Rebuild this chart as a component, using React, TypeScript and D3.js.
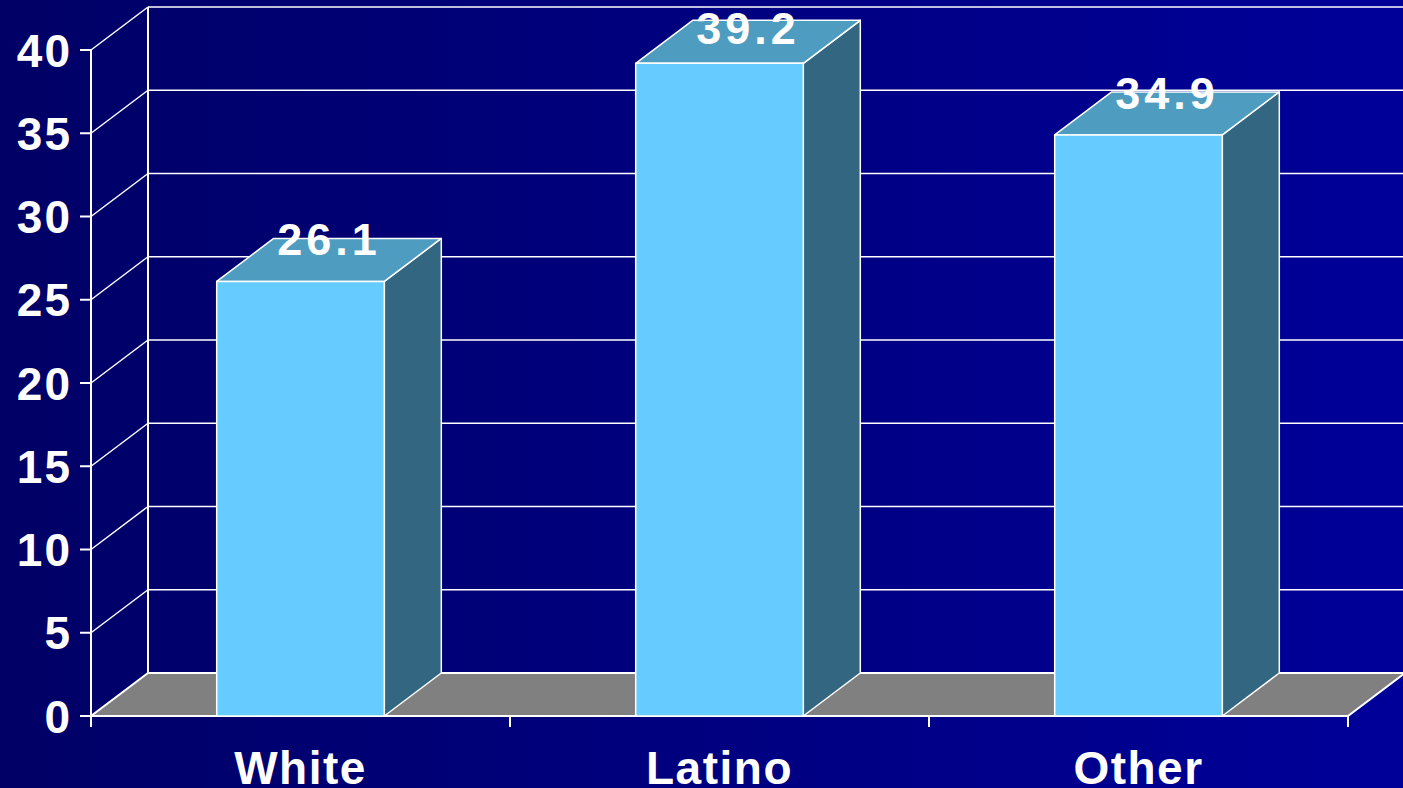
import * as d3 from 'd3'
import React from 'react'

const categories = ['White', 'Latino', 'Other']
const values = [26.1, 39.2, 34.9]
const yTicks = [0, 5, 10, 15, 20, 25, 30, 35, 40]

const
  W = 1403,
  H = 788,
  depthX = 57,
  depthY = 43,
  font = '"Liberation Sans", Arial, sans-serif'

const poly = (pts: [number, number][]) => (d3.line()(pts) as string) + 'Z'

export default function App() {
  const
    x = d3.scaleBand<string>().domain(categories).range([91, 1348]).paddingInner(0).paddingOuter(0),
    y = d3.scaleLinear().domain([0, 40]).range([716, 50]),
    barW = x.bandwidth() * 0.4,
    x0 = x.range()[0],
    x1 = x.range()[1],
    y0 = y(0)

  return (
    <div style={{ position: 'fixed', left: 0, top: 0 }}>
      <svg width={W} height={H} style={{ display: 'block' }}>
        <defs>
          <linearGradient id='bg' x1='0' x2='1' y1='0' y2='0'>
            <stop offset='0' stopColor='#000066' />
            <stop offset='1' stopColor='#000099' />
          </linearGradient>
        </defs>
        <rect width={W} height={H} fill='url(#bg)' />

        {/* floor */}
        <path d={poly([[x0, y0], [x1, y0], [x1 + depthX, y0 - depthY], [x0 + depthX, y0 - depthY]])}
          fill='#808080' stroke='#fff' strokeWidth={2} />

        {/* back wall grid */}
        <line x1={x0 + depthX} x2={x0 + depthX} y1={y(40) - depthY} y2={y0 - depthY} stroke='#fff' strokeWidth={2} />
        {yTicks.filter(t => t > 0).map(t => (
          <g key={t}>
            <line x1={x0 + depthX} x2={W + 10} y1={y(t) - depthY} y2={y(t) - depthY} stroke='#fff' strokeWidth={1.5} />
            <line x1={x0} x2={x0 + depthX} y1={y(t)} y2={y(t) - depthY} stroke='#fff' strokeWidth={1.5} />
          </g>
        ))}

        {/* y axis */}
        <line x1={x0} x2={x0} y1={y(40)} y2={y0 + 11} stroke='#fff' strokeWidth={2} />
        {yTicks.map(t => (
          <g key={t}>
            <line x1={x0 - 11} x2={x0} y1={y(t)} y2={y(t)} stroke='#fff' strokeWidth={2} />
            <text x={72} y={y(t)} dy='0.36em' textAnchor='end' fill='#fff' fontFamily={font}
              fontWeight='bold' fontSize={46} letterSpacing={2}>{t}</text>
          </g>
        ))}

        {/* x axis */}
        <line x1={x0} x2={x1} y1={y0} y2={y0} stroke='#fff' strokeWidth={2} />
        {categories.concat(['']).map((c, i) => {
          const tx = x0 + i * x.step()
          return <line key={i} x1={tx} x2={tx} y1={y0} y2={y0 + 11} stroke='#fff' strokeWidth={2} />
        })}
        {categories.map(c => (
          <text key={c} x={x(c)! + x.bandwidth() / 2} y={784} textAnchor='middle' fill='#fff'
            fontFamily={font} fontWeight='bold' fontSize={46} letterSpacing={1.5}>{c}</text>
        ))}

        {/* bars */}
        {categories.map((c, i) => {
          const
            cx = x(c)! + x.bandwidth() / 2,
            bl = cx - barW / 2,
            br = cx + barW / 2,
            top = y(values[i])
          return (
            <g key={c} stroke='#fff' strokeWidth={1.5} strokeLinejoin='round'>
              <path d={poly([[br, y0], [br + depthX, y0 - depthY], [br + depthX, top - depthY], [br, top]])} fill='#336680' />
              <path d={poly([[bl, top], [br, top], [br + depthX, top - depthY], [bl + depthX, top - depthY]])} fill='#4e9cbf' />
              <path d={poly([[bl, y0], [br, y0], [br, top], [bl, top]])} fill='#66ccff' />
            </g>
          )
        })}

        {/* value labels */}
        {categories.map((c, i) => (
          <text key={c} x={x(c)! + x.bandwidth() / 2 + depthX / 2} y={Math.max(y(values[i]) - 26, 44)}
            textAnchor='middle' fill='#fff' fontFamily={font} fontWeight='bold' fontSize={45}
            letterSpacing={4}>{values[i].toFixed(1)}</text>
        ))}
      </svg>
    </div>
  )
}
